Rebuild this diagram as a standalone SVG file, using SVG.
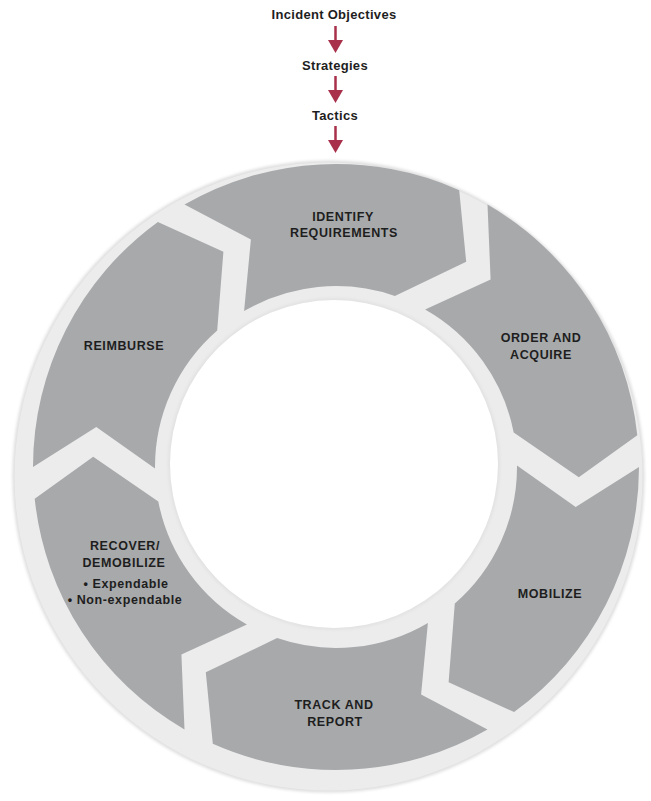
<svg xmlns="http://www.w3.org/2000/svg" width="651" height="801" viewBox="0 0 651 801">
<style>
  .t { font-family: "Liberation Sans", Arial, sans-serif; font-weight: bold; fill: #1e1e1e; text-anchor: middle; }
  .top { font-size: 13px; letter-spacing: 0.3px; }
  .lbl { font-size: 12.5px; letter-spacing: 0.6px; }
  .seg { fill: #a7a9ab; }
  .arr { stroke: #a8304a; stroke-width: 2.5; fill: none; }
  .head { fill: #a8304a; }
</style>
<defs>
  <filter id="soft" x="-5%" y="-5%" width="110%" height="110%">
    <feGaussianBlur stdDeviation="1.5"/>
  </filter>
</defs>
<rect width="651" height="801" fill="#ffffff"/>

<!-- ring background -->
<g id="ring">
  <circle cx="328.5" cy="476.5" r="316" fill="#dedede" filter="url(#soft)"/>
  <circle cx="328.5" cy="476.5" r="314" fill="#ececec"/>
  <circle cx="334" cy="464" r="166" fill="#e2e2e2" filter="url(#soft)"/>
  <circle cx="334" cy="464" r="164" fill="#ffffff"/>
</g>

<g id="identify">
  <path class="seg" d="M184.5,204.6 A303,303 0 0 1 459.2,190.2 L466.2,261.8 L394.9,295.9 A181,181 0 0 0 244.1,311.1 L250.9,239.4 Z"/>
  <text class="t lbl" x="343" y="221">IDENTIFY</text>
  <text class="t lbl" x="344" y="237">REQUIREMENTS</text>
</g>

<g id="order">
  <path class="seg" d="M487.5,204.6 A303,303 0 0 1 637.3,435.3 L578.8,477.2 L513.7,432.5 A181,181 0 0 0 425.1,309.5 L490.6,279.5 Z"/>
  <text class="t lbl" x="541" y="342">ORDER AND</text>
  <text class="t lbl" x="541" y="359">ACQUIRE</text>
</g>

<g id="mobilize">
  <path class="seg" d="M639,467 A303,303 0 0 1 514.1,712.1 L448.6,682.3 L454.8,603.6 A181,181 0 0 0 517,465.4 L575.7,507.1 Z"/>
  <text class="t lbl" x="550" y="598">MOBILIZE</text>
</g>

<g id="track">
  <path class="seg" d="M487.5,729.4 A303,303 0 0 1 212.8,743.8 L205.8,672.2 L277.1,638.1 A181,181 0 0 0 427.9,622.9 L421.1,694.6 Z"/>
  <text class="t lbl" x="334" y="709">TRACK AND</text>
  <text class="t lbl" x="335" y="726">REPORT</text>
</g>

<g id="recover">
  <path class="seg" d="M184.5,729.4 A303,303 0 0 1 34.7,498.7 L93.2,456.8 L158.3,501.5 A181,181 0 0 0 246.9,624.5 L181.4,654.5 Z"/>
  <text class="t lbl" x="125" y="550">RECOVER/</text>
  <text class="t lbl" x="124" y="567">DEMOBILIZE</text>
  <text class="t lbl" x="126" y="588">• Expendable</text>
  <text class="t lbl" x="125" y="604">• Non-expendable</text>
</g>

<g id="reimburse">
  <path class="seg" d="M33,467 A303,303 0 0 1 157.9,221.9 L223.4,251.7 L217.2,330.4 A181,181 0 0 0 155,468.6 L96.3,426.9 Z"/>
  <text class="t lbl" x="124" y="350">REIMBURSE</text>
</g>

<g id="objectives"><text class="t top" x="334" y="19">Incident Objectives</text></g>
<g id="strategies"><text class="t top" x="335" y="70">Strategies</text></g>
<g id="tactics"><text class="t top" x="335" y="120">Tactics</text></g>

<g id="connectors">
  <line class="arr" x1="335.5" y1="26" x2="335.5" y2="42"/>
  <polygon class="head" points="328,40 343,40 335.5,53"/>
  <line class="arr" x1="335.5" y1="76" x2="335.5" y2="92"/>
  <polygon class="head" points="328,90 343,90 335.5,103"/>
  <line class="arr" x1="335.5" y1="126" x2="335.5" y2="142"/>
  <polygon class="head" points="328,140 343,140 335.5,153"/>
</g>
</svg>
